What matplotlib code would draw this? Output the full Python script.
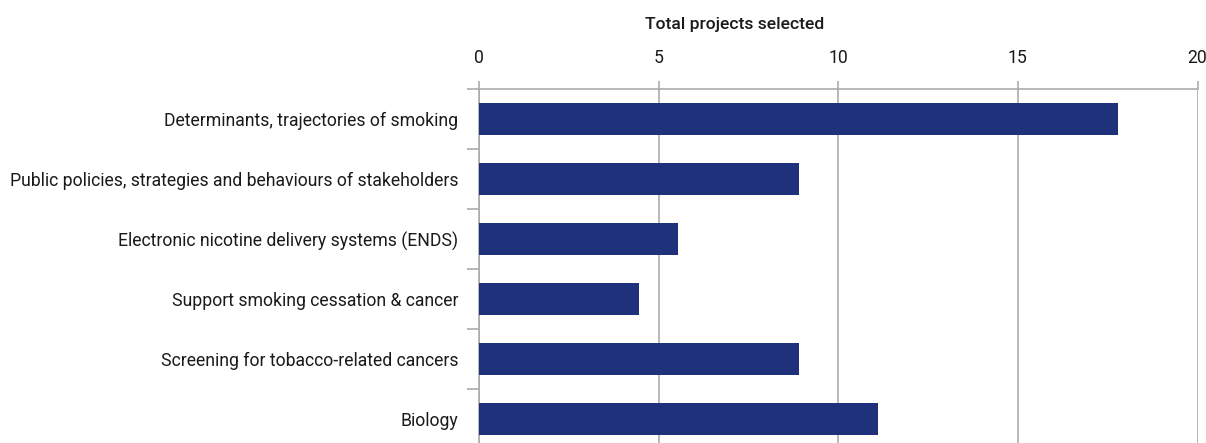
import matplotlib.pyplot as plt
import numpy as np

plt.rcParams['font.family'] = ['Roboto', 'DejaVu Sans']

topics = [
    "Determinants, trajectories of smoking",
    "Public policies, strategies and behaviours of stakeholders",
    "Electronic nicotine delivery systems (ENDS)",
    "Support smoking cessation & cancer",
    "Screening for tobacco-related cancers",
    "Biology",
]
projects = [17.8, 8.9, 5.55, 4.45, 8.9, 11.1]
xticks = [0, 5, 10, 15, 20]

bar_color = "#1F317A"
grey = "#ABABAB"

fig = plt.figure(figsize=(12.06, 4.43), dpi=100)
# axes run a little past the bottom edge, like the cropped original
ax = fig.add_axes([479 / 1206, 1 - 449 / 443, (1197.5 - 479) / 1206, 360 / 443])

y = np.arange(len(topics))
ax.barh(y, projects, height=0.52, color=bar_color, zorder=3)

ax.set_xlim(0, 20)
ax.set_ylim(len(topics) - 0.5, -0.5)

ax.xaxis.tick_top()
ax.set_xticks(xticks)
ax.set_xticklabels([str(t) for t in xticks])
ax.tick_params(axis="x", which="major", length=6, width=1.2, color=grey,
               pad=10, labelsize=12.7, labelcolor="#1a1a1a")
ax.grid(axis="x", color=grey, linewidth=1.2, zorder=0)

ax.set_yticks(y)
ax.set_yticklabels(topics)
ax.set_yticks(np.arange(-0.5, len(topics)), minor=True)
ax.tick_params(axis="y", which="major", length=0, pad=15, labelsize=12.7,
               labelcolor="#1a1a1a")
ax.tick_params(axis="y", which="minor", length=9, width=1.2, color=grey)

for side in ["bottom", "right"]:
    ax.spines[side].set_visible(False)
for side in ["top", "left"]:
    ax.spines[side].set_color(grey)
    ax.spines[side].set_linewidth(1.2)

fig.text(735 / 1206, 1 - 25 / 443, "Total projects selected", ha="center",
         va="center", fontsize=12.6, fontweight="medium", color="#1a1a1a")

fig.savefig("out.png", dpi=100)
